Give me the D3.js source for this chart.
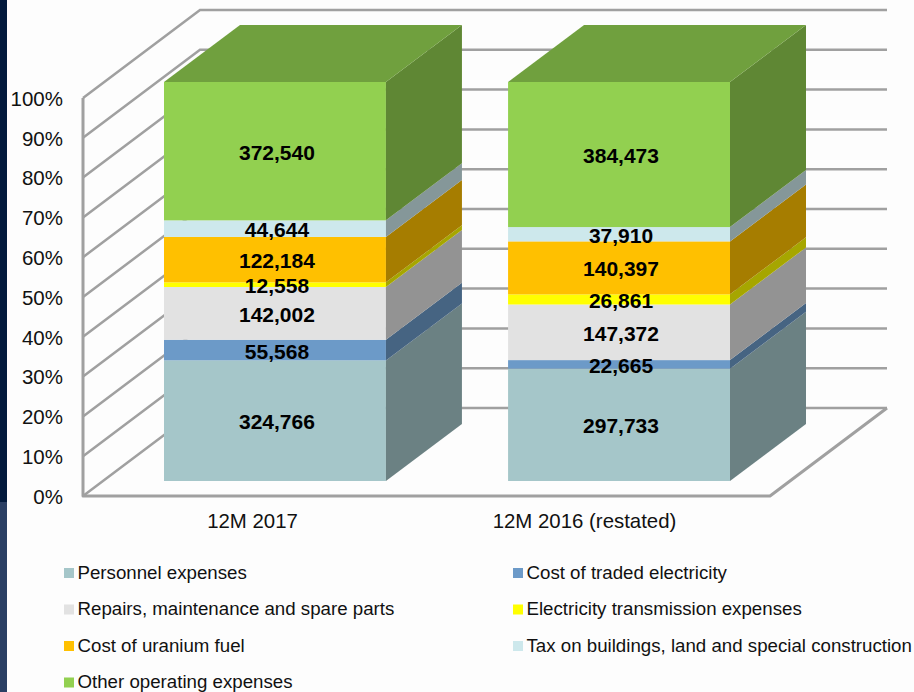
<!DOCTYPE html>
<html>
<head>
<meta charset="utf-8">
<script src="https://cdn.jsdelivr.net/npm/d3@7"></script>
<style>
  html, body { margin: 0; padding: 0; background: #fdfdfd; overflow: hidden; }
  text { font-family: "Liberation Sans", Arial, sans-serif; fill: #111; }
</style>
</head>
<body>
<div id="chart"></div>
<script>
const categories = ['12M 2017', '12M 2016 (restated)'];
const seriesNames = [
  'Personnel expenses',
  'Cost of traded electricity',
  'Repairs, maintenance and spare parts',
  'Electricity transmission expenses',
  'Cost of uranium fuel',
  'Tax on buildings, land and special construction',
  'Other operating expenses'
];
const values2017 = [324766, 55568, 142002, 12558, 122184, 44644, 372540];
const values2016 = [297733, 22665, 147372, 26861, 140397, 37910, 384473];
const seriesColors = ['#a5c6c9', '#6c9ac8', '#e2e2e2', '#ffff00', '#ffc000', '#cde8ec', '#92d050'];
const percentTicks = [0, 0.1, 0.2, 0.3, 0.4, 0.5, 0.6, 0.7, 0.8, 0.9, 1];

const width = 914;
const height = 692;

const svg = d3.select('#chart')
  .append('svg')
  .attr('width', width)
  .attr('height', height)
  .attr('viewBox', [0, 0, width, height])
  .style('display', 'block');

// dark strip on the left, comes from the slide behind the chart
svg.append('rect').attr('x', 0).attr('y', 0).attr('width', 7).attr('height', 502).attr('fill', '#021a3c');
svg.append('rect').attr('x', 0).attr('y', 502).attr('width', 7).attr('height', 190).attr('fill', '#2a3f63');

// walls of the 3d box
const wallY = d3.scaleLinear().domain([0, 1]).range([496, 98]);
const wallX = { front: 83, back: 200, right: 887, frontRight: 770 };
const wallDy = -88;

const grid = svg.append('g')
  .attr('fill', 'none')
  .attr('stroke', '#a0a0a0')
  .attr('stroke-width', 2.5);

percentTicks.forEach(t => {
  const y = wallY(t);
  grid.append('path')
    .attr('d', d3.line()([[wallX.front, y], [wallX.back, y + wallDy], [wallX.right, y + wallDy]]));
});
grid.append('path')
  .attr('stroke-width', 3)
  .attr('stroke-linejoin', 'round')
  .attr('d', d3.line()([
    [wallX.front, wallY(1)],
    [wallX.front, wallY(0)],
    [wallX.frontRight, wallY(0)],
    [wallX.right, wallY(0) + wallDy]
  ]));

svg.append('g')
  .attr('transform', `translate(${wallX.front - 20},0)`)
  .call(d3.axisLeft(wallY).tickValues(percentTicks).tickFormat(d3.format('.0%')).tickSize(0))
  .call(g => g.select('.domain').remove())
  .call(g => g.selectAll('text').attr('font-size', 20.5).attr('x', 0).attr('dy', '0.36em'));

// stacked bars
const rows = categories.map((c, i) => {
  const row = { category: c };
  seriesNames.forEach((s, j) => { row[s] = (i === 0 ? values2017 : values2016)[j]; });
  return row;
});
const stacked = d3.stack().keys(seriesNames).offset(d3.stackOffsetExpand)(rows);

const x = d3.scaleBand().domain(categories).range([164, 730]).paddingInner(0.355);
const y = d3.scaleLinear().domain([0, 1]).range([481, 82]);
const color = d3.scaleOrdinal().domain(seriesNames).range(seriesColors);
const barDx = 76;
const barDy = -57;

function shade(c, k) {
  const rgb = d3.rgb(c);
  return d3.rgb(rgb.r * k, rgb.g * k, rgb.b * k).formatHex();
}

const bars = svg.append('g');
stacked.forEach((layer, i) => {
  const fill = color(layer.key);
  layer.forEach(seg => {
    const x0 = x(seg.data.category);
    const x1 = x0 + x.bandwidth();
    const yTop = y(seg[1]);
    const yBottom = y(seg[0]);
    bars.append('rect')
      .attr('x', x0).attr('y', yTop)
      .attr('width', x.bandwidth()).attr('height', yBottom - yTop)
      .attr('fill', fill);
    bars.append('path')
      .attr('fill', shade(fill, 0.65))
      .attr('d', d3.line()([
        [x1, yBottom], [x1 + barDx, yBottom + barDy], [x1 + barDx, yTop + barDy], [x1, yTop]
      ]) + 'Z');
    // top lid only on the last series
    if (i === stacked.length - 1) {
      bars.append('path')
        .attr('fill', shade(fill, 0.77))
        .attr('d', d3.line()([
          [x0, yTop], [x0 + barDx, yTop + barDy], [x1 + barDx, yTop + barDy], [x1, yTop]
        ]) + 'Z');
    }
  });
});

// data labels
stacked.forEach(layer => {
  layer.forEach(seg => {
    svg.append('text')
      .attr('x', x(seg.data.category) + x.bandwidth() / 2 + 2)
      .attr('y', y((seg[0] + seg[1]) / 2) + 1)
      .attr('dy', '0.36em')
      .attr('text-anchor', 'middle')
      .attr('font-weight', 'bold')
      .attr('font-size', 21)
      .style('fill', '#000')
      .text(d3.format(',')(seg.data[layer.key]));
  });
});

// category labels sit on the front edge of the floor
const xLabels = d3.scalePoint().domain(categories).range([252, 584]);
svg.append('g')
  .attr('transform', 'translate(0,521)')
  .call(d3.axisBottom(xLabels).tickSize(0).tickPadding(0))
  .call(g => g.select('.domain').remove())
  .call(g => g.selectAll('text').attr('font-size', 20.4).attr('y', 0).attr('dy', '0.36em'));

// legend, two columns
const legendX = d3.scalePoint().domain([0, 1]).range([64, 513]);
const legendY = d3.scalePoint().domain([0, 1, 2, 3]).range([572, 681.5]);
const legend = svg.append('g');
seriesNames.forEach((s, i) => {
  const lx = legendX(i % 2);
  const ly = legendY(Math.floor(i / 2));
  legend.append('rect')
    .attr('x', lx).attr('y', ly - 4)
    .attr('width', 10).attr('height', 10)
    .attr('fill', color(s));
  legend.append('text')
    .attr('x', lx + 13.5).attr('y', ly)
    .attr('dy', '0.36em')
    .attr('font-size', 18.7)
    .text(s);
});
</script>
</body>
</html>
